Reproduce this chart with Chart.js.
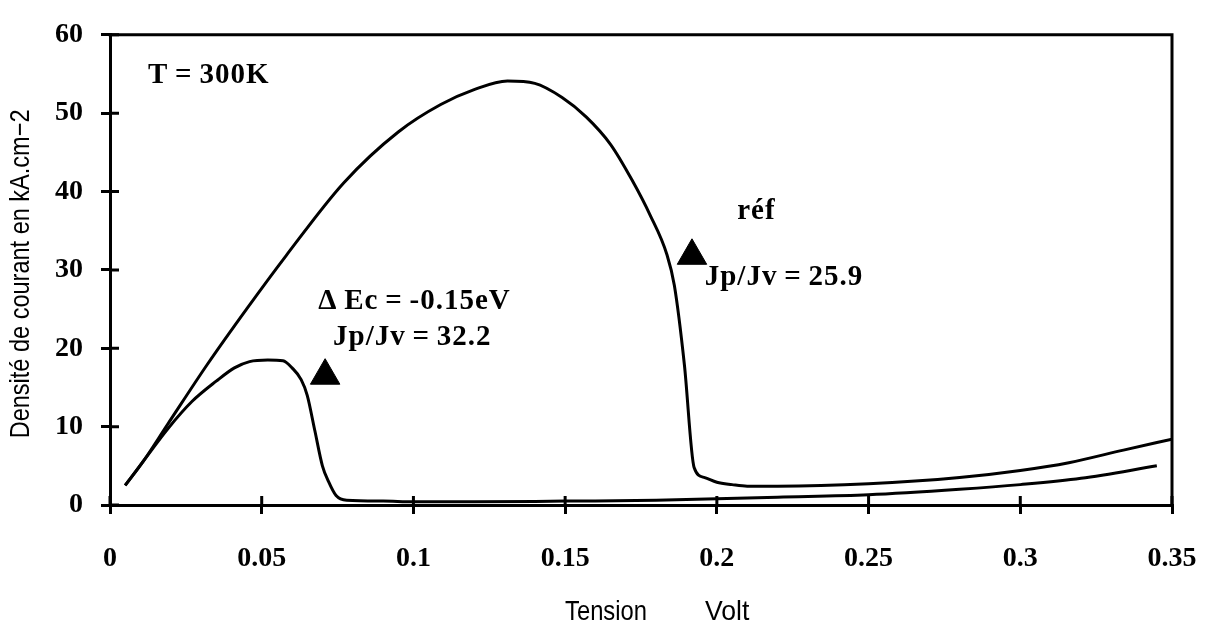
<!DOCTYPE html>
<html lang="fr">
<head>
<meta charset="utf-8">
<title>Densité de courant - Tension</title>
<script src="https://cdn.jsdelivr.net/npm/chart.js@4.4.1/dist/chart.umd.min.js"></script>
<style>
  html, body { margin: 0; padding: 0; background: #fff; }
  #jvChart { display: block; }
</style>
</head>
<body>
<canvas id="jvChart" width="1221" height="636"></canvas>
<script>
// Courbe de référence (tension en V, densité en kA.cm-2)
const refVolts = [0.005, 0.011, 0.019, 0.032, 0.045, 0.058, 0.077, 0.095, 0.109, 0.120,
                  0.131, 0.140, 0.149, 0.157, 0.165, 0.172, 0.178, 0.1835, 0.186, 0.1893,
                  0.1925, 0.196, 0.200, 0.205, 0.210, 0.220, 0.250, 0.280, 0.300, 0.316,
                  0.334, 0.350];
const refCurrent = [2.5, 5.6, 10.3, 17.9, 25.0, 31.8, 41.1, 47.6, 51.1, 53.0,
                    54.1, 53.8, 52.0, 49.5, 46.0, 41.5, 37.0, 32.0, 28.0, 17.9,
                    4.8, 3.5, 2.9, 2.6, 2.4, 2.4, 2.7, 3.5, 4.4, 5.4,
                    7.0, 8.4];

// Courbe avec Delta Ec = -0.15 eV
const dEcVolts = [0.005, 0.011, 0.019, 0.027, 0.035, 0.041, 0.046, 0.052, 0.057, 0.060,
                  0.063, 0.065, 0.0675, 0.070, 0.072, 0.0745, 0.078, 0.090, 0.100, 0.120,
                  0.150, 0.180, 0.200, 0.220, 0.250, 0.280, 0.300, 0.320, 0.345];
const dEcCurrent = [2.5, 5.6, 9.7, 13.2, 15.8, 17.5, 18.3, 18.5, 18.4, 17.5,
                    16.0, 14.0, 9.5, 5.0, 3.0, 1.2, 0.6, 0.5, 0.4, 0.4,
                    0.5, 0.6, 0.8, 1.0, 1.3, 2.0, 2.6, 3.4, 5.0];

// Repères (triangles) des deux courbes
const markerVolts = [0.0709, 0.1918];
const markerCurrent = [16.5, 31.8];

// Graduations
const xTickValues = [0, 0.05, 0.1, 0.15, 0.2, 0.25, 0.3, 0.35];
const yTickValues = [0, 10, 20, 30, 40, 50, 60];

// Textes posés dans le graphique (coordonnées en unités des axes)
const noteTexts = ['T\u2009=\u2009300K', '\u0394\u2009Ec\u2009=\u2009-0.15eV', 'Jp/Jv\u2009=\u200932.2', 'réf', 'Jp/Jv\u2009=\u200925.9'];
const noteVolts = [0.0125, 0.0686, 0.0735, 0.2067, 0.196];
const noteCurrent = [54.8, 26.0, 21.4, 37.4, 29.0];

// Titres des axes
const xTitleWords = ['Tension', 'Volt'];
const yTitle = 'Densité de courant en kA.cm\u22122';

const serifBold = { family: '"Liberation Serif", "Times New Roman", serif', size: 28, weight: 'bold' };
const narrowFace = '"Liberation Sans", Arial, sans-serif';

function toPoints(xs, ys) {
    return xs.map((x, i) => ({ x: x, y: ys[i] }));
}

function formatVolt(v) {
    return String(+Number(v).toFixed(2));
}

// texte resserré horizontalement (police étroite)
function narrowText(ctx, text, x, y, squeeze) {
    ctx.save();
    ctx.translate(x, y);
    ctx.scale(squeeze, 1);
    ctx.fillText(text, 0, 0);
    ctx.restore();
}

// Cadre, graduations intérieures, titres et annotations
const framePlugin = {
    id: 'frame',
    afterDraw(chart) {
        const ctx = chart.ctx;
        const area = chart.chartArea;
        const xs = chart.scales.x;
        const ys = chart.scales.y;
        ctx.save();
        ctx.strokeStyle = '#000';
        ctx.lineWidth = 3;
        ctx.lineCap = 'square';

        // bords haut et droit
        ctx.beginPath();
        ctx.moveTo(area.left, area.top);
        ctx.lineTo(area.right, area.top);
        ctx.lineTo(area.right, area.bottom);
        ctx.stroke();

        // tirets vers l'intérieur
        ctx.lineCap = 'butt';
        ctx.beginPath();
        xTickValues.forEach(v => {
            const px = xs.getPixelForValue(v);
            ctx.moveTo(px, area.bottom);
            ctx.lineTo(px, area.bottom - 9);
        });
        yTickValues.forEach(v => {
            const py = ys.getPixelForValue(v);
            ctx.moveTo(area.left, py);
            ctx.lineTo(area.left + 9, py);
        });
        ctx.stroke();

        // titres des axes
        ctx.fillStyle = '#000';
        ctx.font = '28px ' + narrowFace;
        ctx.textBaseline = 'middle';
        ctx.textAlign = 'left';
        narrowText(ctx, xTitleWords[0], 565, 612, 0.85);
        narrowText(ctx, xTitleWords[1], 705, 612, 0.95);

        ctx.save();
        ctx.translate(21, (area.top + area.bottom) / 2 + 4);
        ctx.rotate(-Math.PI / 2);
        ctx.textAlign = 'center';
        narrowText(ctx, yTitle, 0, 0, 0.84);
        ctx.restore();

        // annotations
        ctx.font = 'bold 29px "Liberation Serif", "Times New Roman", serif';
        ctx.textAlign = 'left';
        if ('letterSpacing' in ctx) ctx.letterSpacing = '1px';
        noteTexts.forEach((t, i) => {
            ctx.fillText(t, xs.getPixelForValue(noteVolts[i]), ys.getPixelForValue(noteCurrent[i]));
        });
        ctx.restore();
    }
};

new Chart(document.getElementById('jvChart'), {
    type: 'line',
    data: {
        datasets: [
            {
                label: 'réf',
                data: toPoints(refVolts, refCurrent),
                borderColor: '#000',
                borderWidth: 3,
                pointRadius: 0,
                fill: false,
                cubicInterpolationMode: 'monotone'
            },
            {
                label: '\u0394Ec = -0.15eV',
                data: toPoints(dEcVolts, dEcCurrent),
                borderColor: '#000',
                borderWidth: 3,
                pointRadius: 0,
                fill: false,
                cubicInterpolationMode: 'monotone'
            },
            {
                type: 'scatter',
                label: 'repères',
                data: toPoints(markerVolts, markerCurrent),
                pointStyle: 'triangle',
                pointRadius: 17,
                backgroundColor: '#000',
                borderColor: '#000',
                borderWidth: 1,
                showLine: false
            }
        ]
    },
    options: {
        responsive: false,
        animation: false,
        events: [],
        layout: {
            padding: { left: 0, top: 20, right: 49, bottom: 0 }
        },
        plugins: {
            legend: { display: false },
            tooltip: { enabled: false }
        },
        scales: {
            x: {
                type: 'linear',
                position: 'bottom',
                min: 0,
                max: 0.35,
                afterBuildTicks: scale => {
                    scale.ticks = xTickValues.map(v => ({ value: v }));
                },
                afterFit: scale => {
                    scale.height = 131;
                    scale.paddingLeft = 0;
                    scale.paddingRight = 0;
                },
                border: { display: true, color: '#000', width: 3 },
                grid: {
                    drawOnChartArea: false,
                    drawTicks: true,
                    tickLength: 9,
                    color: '#000',
                    lineWidth: 3
                },
                ticks: {
                    color: '#000',
                    font: serifBold,
                    padding: 28,
                    maxRotation: 0,
                    autoSkip: false,
                    callback: v => formatVolt(v)
                }
            },
            y: {
                type: 'linear',
                position: 'left',
                min: 0,
                max: 60,
                afterBuildTicks: scale => {
                    scale.ticks = yTickValues.map(v => ({ value: v }));
                },
                afterFit: scale => { scale.width = 110; },
                border: { display: true, color: '#000', width: 3 },
                grid: {
                    drawOnChartArea: false,
                    drawTicks: true,
                    tickLength: 9,
                    color: '#000',
                    lineWidth: 3
                },
                ticks: {
                    color: '#000',
                    font: serifBold,
                    padding: 18,
                    autoSkip: false
                }
            }
        }
    },
    plugins: [framePlugin]
});
</script>
</body>
</html>
